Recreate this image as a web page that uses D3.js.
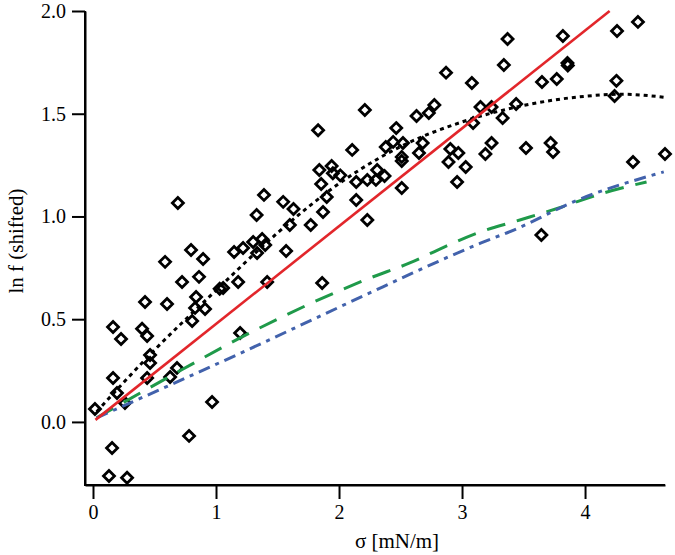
<!DOCTYPE html>
<html><head><meta charset="utf-8">
<script src="https://cdn.jsdelivr.net/npm/d3@7"></script>
<style>body{margin:0;background:#fff}svg{display:block}</style>
</head><body>
<svg id="c" width="675" height="555"></svg>
<script>
// scatter data: sigma [mN/m], ln f (shifted)
const sigma = [0.016,0.155,0.13,0.277,0.163,0.228,0.163,0.195,0.26,0.399,0.44,0.423,0.586,0.602,0.464,0.464,0.44,0.683,0.627,0.724,0.797,0.895,0.862,0.838,0.83,0.911,0.806,0.968,0.781,1.058,1.03,1.18,1.196,1.147,1.22,1.302,1.375,1.334,1.4,1.416,1.57,1.863,0.69,1.33,1.39,1.546,1.63,1.60,1.77,1.87,1.855,1.84,1.83,1.94,1.95,2.01,1.90,2.107,2.21,2.14,2.14,2.23,2.23,2.30,2.87,3.08,3.37,3.34,3.82,3.857,3.86,3.65,3.77,4.26,4.43,4.255,4.24,2.63,2.73,2.775,2.465,2.38,2.44,2.52,2.51,2.51,2.68,2.65,2.51,2.31,2.37,2.905,2.97,2.89,3.03,2.96,3.09,3.15,3.24,3.44,3.33,3.24,3.19,3.52,3.72,3.74,4.39,4.65,3.645];
const lnf = [0.063,-0.127,-0.263,-0.272,0.462,0.404,0.214,0.141,0.092,0.453,0.418,0.584,0.779,0.574,0.326,0.287,0.214,0.263,0.219,0.681,0.837,0.793,0.706,0.608,0.555,0.55,0.491,0.097,-0.068,0.652,0.648,0.681,0.433,0.827,0.847,0.876,0.89,0.822,0.861,0.681,0.832,0.676,1.066,1.007,1.105,1.071,1.036,0.958,0.958,1.022,1.158,1.226,1.42,1.246,1.21,1.20,1.095,1.324,1.518,1.168,1.08,0.983,1.178,1.178,1.70,1.65,1.864,1.737,1.878,1.747,1.735,1.654,1.669,1.903,1.947,1.66,1.586,1.489,1.503,1.542,1.43,1.338,1.363,1.358,1.29,1.27,1.358,1.309,1.139,1.226,1.197,1.328,1.309,1.265,1.241,1.168,1.455,1.533,1.533,1.547,1.479,1.358,1.304,1.333,1.358,1.314,1.265,1.304,0.91];

// fit curves
const redX = [0.02, 4.2];
const redY = [0.01, 2.0];
const dotX = [0.03,0.5,1.0,1.5,2.0,2.5,3.0,3.5,4.0,4.3,4.65];
const dotY = [0.05,0.35,0.64,0.92,1.16,1.34,1.46,1.54,1.585,1.595,1.58];
const greenX = [0.03,0.71,1.2,2.25,2.58,2.85,3.15,3.47,3.78,4.15,4.5];
const greenY = [0.02,0.25,0.41,0.70,0.775,0.85,0.925,0.983,1.04,1.114,1.168];
const blueX = [0.03,1.2,2.25,2.6,3.15,3.42,3.94,4.64];
const blueY = [0.02,0.335,0.628,0.725,0.87,0.934,1.08,1.217];

const xTicks = [0,1,2,3,4];
const yTicks = [0,0.5,1.0,1.5,2.0];
const xTitle = "σ [mN/m]";
const yTitle = "ln f (shifted)";

const svg = d3.select("#c");
const font = "'Liberation Serif','Times New Roman',serif";
const x = d3.scaleLinear().domain([-0.065, 4.65]).range([85, 665]);
const y = d3.scaleLinear().domain([-0.307, 2.0]).range([485, 11]);

// axes
const xa = svg.append("g").attr("transform","translate(0,485)")
  .call(d3.axisBottom(x).tickValues(xTicks).tickFormat(d3.format("d")).tickSize(14).tickSizeOuter(0).tickPadding(6));
const ya = svg.append("g").attr("transform","translate(85,0)")
  .call(d3.axisLeft(y).tickValues(yTicks).tickFormat(d3.format(".1f")).tickSize(13).tickSizeOuter(0).tickPadding(6));
[xa,ya].forEach(g=>{
  g.select(".domain").attr("stroke","#000").attr("stroke-width",2);
  g.selectAll(".tick line").attr("stroke","#000").attr("stroke-width",2);
  g.selectAll(".tick text").attr("font-family",font).attr("font-size",20).attr("fill","#000");
});
// make the axes meet at the corner
svg.append("line").attr("x1",85).attr("x2",85).attr("y1",11).attr("y2",486).attr("stroke","#000").attr("stroke-width",2);
svg.append("line").attr("x1",84).attr("x2",665).attr("y1",485).attr("y2",485).attr("stroke","#000").attr("stroke-width",2);

svg.append("text").attr("x",397).attr("y",548).attr("text-anchor","middle")
  .attr("font-family",font).attr("font-size",21).text(xTitle);
svg.append("text").attr("transform","translate(23,241) rotate(-90)").attr("text-anchor","middle")
  .attr("font-family",font).attr("font-size",21).text(yTitle);

const line = d3.line().x(d=>x(d[0])).y(d=>y(d[1]));
const smooth = d3.line().x(d=>x(d[0])).y(d=>y(d[1])).curve(d3.curveMonotoneX);

// markers
const pts = sigma.map((s,i)=>[s,lnf[i]]);
const r = 5.5;
svg.append("g").selectAll("path").data(pts).join("path")
  .attr("d", d=>`M${x(d[0])},${y(d[1])-r}L${x(d[0])+r},${y(d[1])}L${x(d[0])},${y(d[1])+r}L${x(d[0])-r},${y(d[1])}Z`)
  .attr("fill","none").attr("stroke","#000").attr("stroke-width",2.8);

svg.append("path").datum(greenX.map((v,i)=>[v,greenY[i]])).attr("d",smooth)
  .attr("fill","none").attr("stroke","#1f9a4a").attr("stroke-width",3).attr("stroke-dasharray","19,12");
svg.append("path").datum(blueX.map((v,i)=>[v,blueY[i]])).attr("d",smooth)
  .attr("fill","none").attr("stroke","#4262ac").attr("stroke-width",3).attr("stroke-dasharray","12,6,4,6");
svg.append("path").datum(dotX.map((v,i)=>[v,dotY[i]])).attr("d",smooth)
  .attr("fill","none").attr("stroke","#000").attr("stroke-width",3).attr("stroke-dasharray","4,4");
svg.append("path").datum(redX.map((v,i)=>[v,redY[i]])).attr("d",line)
  .attr("fill","none").attr("stroke","#e2262b").attr("stroke-width",2.6);
</script>
</body></html>
